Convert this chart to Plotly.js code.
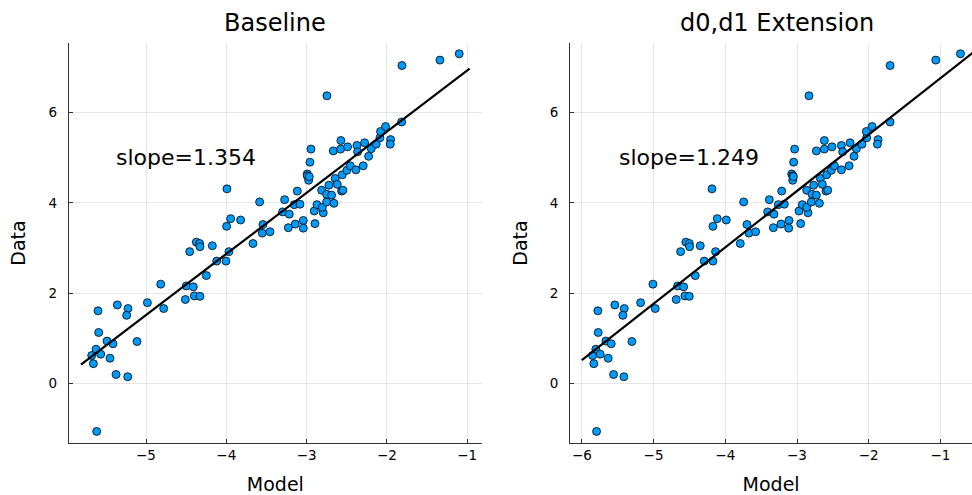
<!DOCTYPE html>
<html>
<head>
<meta charset="utf-8">
<script src="https://cdn.plot.ly/plotly-3.0.1.min.js"></script>
<style>html,body{margin:0;padding:0;overflow:hidden;background:#fff;}</style>
</head>
<body>
<div id="chart" style="width:972px;height:495px;"></div>
<script>
const panelTitles = ["Baseline", "d0,d1 Extension"];
const slopes = [1.354, 1.249];
const intercepts = [8.286, 8.01];
const fitXBase = [-5.81, -0.97];
const fitXExt = [-6.0, -0.55];

const dataY = [
  -1.06, 1.61, 1.13, 0.62, 0.44, 0.76, 0.65, 0.94, 0.88, 0.56,
  0.20, 0.15, 1.74, 1.66, 1.51, 0.93, 1.79, 2.20, 1.66, 1.86,
  2.16, 2.14, 1.94, 1.93, 2.39, 2.92, 3.13, 3.10, 3.03, 3.05,
  2.71, 2.71, 2.92, 3.48, 3.65, 3.62, 4.31, 3.10, 4.02, 3.52,
  3.33, 3.36, 3.80, 4.07, 3.75, 3.45, 3.53, 3.96, 3.97, 4.26,
  3.61, 3.44, 4.64, 4.60, 4.50, 4.58, 4.90, 5.19, 3.54, 3.82,
  3.96, 3.78, 3.90, 4.28, 4.02, 6.37, 4.19, 4.39, 4.17, 3.99,
  4.54, 4.41, 4.26, 4.28, 4.62, 4.72, 4.82, 5.15, 5.38, 5.19,
  5.24, 4.73, 5.27, 5.13, 4.82, 5.33, 5.03, 5.20, 5.30, 5.44,
  5.58, 5.69, 5.40, 5.30, 5.79, 7.04, 7.16, 7.30
];

const modelBase = [
  -5.614, -5.598, -5.589, -5.676, -5.656, -5.622, -5.564, -5.485, -5.411, -5.448,
  -5.373, -5.228, -5.357, -5.224, -5.241, -5.112, -4.983, -4.817, -4.78, -4.51,
  -4.498, -4.411, -4.398, -4.328, -4.249, -4.456, -4.373, -4.332, -4.328, -4.174,
  -4.12, -4.004, -3.967, -3.996, -3.946, -3.822, -3.992, -3.668, -3.585, -3.544,
  -3.552, -3.456, -3.299, -3.274, -3.216, -3.228, -3.141, -3.154, -3.083, -3.116,
  -3.041, -3.041, -2.992, -2.992, -2.975, -2.967, -2.959, -2.946, -2.896, -2.905,
  -2.871, -2.793, -2.805, -2.813, -2.751, -2.747, -2.751, -2.722, -2.689, -2.66,
  -2.643, -2.618, -2.564, -2.548, -2.556, -2.498, -2.456, -2.668, -2.573, -2.577,
  -2.49, -2.386, -2.373, -2.365, -2.295, -2.278, -2.228, -2.195, -2.133, -2.087,
  -2.079, -2.017, -1.954, -1.959, -1.817, -1.813, -1.34, -1.1
];

const modelExt = [
  -5.795, -5.777, -5.772, -5.851, -5.833, -5.805, -5.744, -5.665, -5.591, -5.633,
  -5.558, -5.414, -5.540, -5.409, -5.428, -5.302, -5.181, -5.009, -4.977, -4.684,
  -4.665, -4.581, -4.563, -4.502, -4.419, -4.623, -4.549, -4.502, -4.498, -4.349,
  -4.293, -4.172, -4.135, -4.172, -4.112, -3.986, -4.186, -3.791, -3.744, -3.698,
  -3.670, -3.577, -3.409, -3.386, -3.321, -3.330, -3.223, -3.260, -3.177, -3.214,
  -3.112, -3.116, -3.074, -3.06, -3.06, -3.051, -3.047, -3.033, -2.949, -2.972,
  -2.926, -2.847, -2.865, -2.865, -2.800, -2.833, -2.791, -2.767, -2.730, -2.688,
  -2.674, -2.647, -2.595, -2.572, -2.586, -2.521, -2.479, -2.730, -2.619, -2.619,
  -2.512, -2.381, -2.381, -2.363, -2.274, -2.260, -2.205, -2.172, -2.093, -2.028,
  -2.033, -1.953, -1.870, -1.879, -1.702, -1.702, -1.065, -0.721
];

const FONT = "DejaVu Sans, Liberation Sans, sans-serif";
const marker = {color: "#009AFA", size: 8, line: {color: "#000", width: 0.8}};

function fitLine(xs, i) { return xs.map(x => slopes[i] * x + intercepts[i]); }

const traces = [
  {type: "scatter", mode: "markers", x: modelBase, y: dataY, xaxis: "x", yaxis: "y", marker: marker, showlegend: false},
  {type: "scatter", mode: "lines", x: fitXBase, y: fitLine(fitXBase, 0), xaxis: "x", yaxis: "y", line: {color: "#000", width: 2.2}, showlegend: false},
  {type: "scatter", mode: "markers", x: modelExt, y: dataY, xaxis: "x2", yaxis: "y2", marker: marker, showlegend: false},
  {type: "scatter", mode: "lines", x: fitXExt, y: fitLine(fitXExt, 1), xaxis: "x2", yaxis: "y2", line: {color: "#000", width: 2.2}, showlegend: false}
];

const axisCommon = {
  showline: true, linecolor: "#333", linewidth: 1.2, mirror: false,
  ticks: "inside", ticklen: 4, tickcolor: "#333", tickwidth: 1,
  showgrid: true, gridcolor: "rgba(0,0,0,0.1)", gridwidth: 1, zeroline: false,
  tickfont: {family: FONT, size: 13.5, color: "#000"}
};

const xTitle = {text: "Model", font: {family: FONT, size: 19, color: "#000"}, standoff: 16};
const yTitle = {text: "Data", font: {family: FONT, size: 19, color: "#000"}, standoff: 17};

const layout = {
  width: 972, height: 495,
  margin: {l: 69, r: 0, t: 43, b: 52},
  paper_bgcolor: "#fff", plot_bgcolor: "#fff",
  font: {family: FONT},
  xaxis: Object.assign({}, axisCommon, {domain: [0, 0.457], range: [-5.959, -0.82], tickvals: [-5, -4, -3, -2, -1], title: xTitle, anchor: "y"}),
  yaxis: Object.assign({}, axisCommon, {domain: [0, 1], range: [-1.317, 7.539], tickvals: [0, 2, 4, 6], title: yTitle, anchor: "x", ticklabelstandoff: 8}),
  xaxis2: Object.assign({}, axisCommon, {domain: [0.555, 1], range: [-6.163, -0.56], tickvals: [-6, -5, -4, -3, -2, -1], title: xTitle, anchor: "y2"}),
  yaxis2: Object.assign({}, axisCommon, {domain: [0, 1], range: [-1.317, 7.539], tickvals: [0, 2, 4, 6], title: yTitle, anchor: "x2", ticklabelstandoff: 8}),
  annotations: [
    {text: panelTitles[0], xref: "paper", yref: "paper", x: 0.2285, y: 1.05, xanchor: "center", yanchor: "middle", showarrow: false, font: {family: FONT, size: 24, color: "#000"}},
    {text: panelTitles[1], xref: "paper", yref: "paper", x: 0.7843, y: 1.05, xanchor: "center", yanchor: "middle", showarrow: false, font: {family: FONT, size: 24, color: "#000"}},
    {text: "slope=" + slopes[0].toFixed(3), xref: "x", yref: "y", x: -4.5, y: 5.0, xanchor: "center", yanchor: "middle", showarrow: false, font: {family: FONT, size: 22, color: "#000"}},
    {text: "slope=" + slopes[1].toFixed(3), xref: "x2", yref: "y2", x: -4.5, y: 5.0, xanchor: "center", yanchor: "middle", showarrow: false, font: {family: FONT, size: 22, color: "#000"}}
  ]
};

Plotly.newPlot("chart", traces, layout, {displayModeBar: false, staticPlot: true});
</script>
</body>
</html>
